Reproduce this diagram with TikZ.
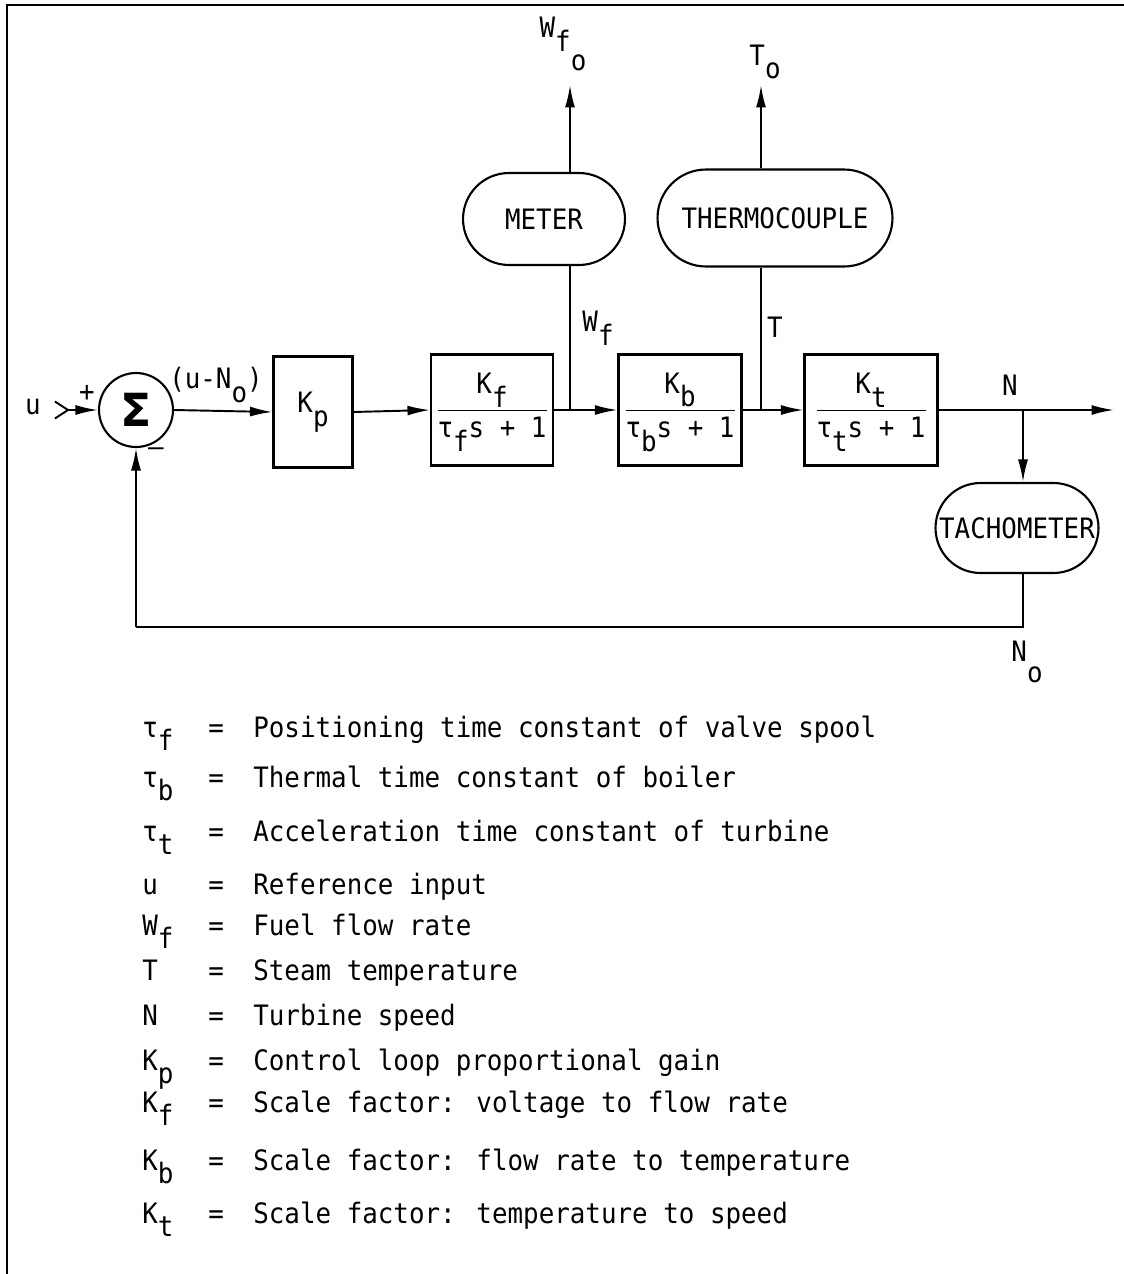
\documentclass[tikz,border=0pt]{standalone}
\usepackage{fontspec}
\setmainfont{DejaVu Sans Mono}[FakeStretch=0.92]
\newfontfamily\sigmafont{DejaVu Sans}
\usetikzlibrary{arrows.meta, positioning, calc}

% lowered index, typewriter style
\newcommand{\lo}[1]{\raisebox{-0.9ex}{#1}}
% first order lag  K / (tau s + 1)
\newcommand{\lagfrac}[1]{\begin{tabular}{@{}c@{}}\rule{0pt}{14pt}K\lo{#1}\\[4pt]\hline\rule[-4pt]{0pt}{19pt}τ\lo{#1}s + 1\end{tabular}}

\tikzset{
  every node/.style={font=\fontsize{16}{19}\selectfont},
  block/.style={draw, line width=1.2pt, minimum height=2.22cm, inner sep=0pt},
  sensor/.style={draw, line width=1.2pt, inner sep=0pt},
  sig/.style={line width=1.1pt, ->},
  wire/.style={line width=1.1pt},
  legend/.style={anchor=base west, inner sep=0pt}
}

\begin{document}
\begin{tikzpicture}[x=0.02cm, y=-0.02cm, >={Latex[length=0.45cm,width=0.2cm]}]
  \useasboundingbox (0,0) rectangle (1124,1274);
  % frame
  \draw[line width=1.3pt] (7,1274) -- (7,5) -- (1124,5);

  % forward path
  \node[circle, draw, line width=1.2pt, minimum size=1.48cm, inner sep=0pt,
    font=\sigmafont\bfseries\fontsize{26}{26}\selectfont] (sum) at (136,410) {Σ};
  \node[block, minimum width=1.58cm] (kp) at (313,412) {K\lo{p}};
  \node[block, minimum width=2.44cm] (kf) at (492,410) {\lagfrac{f}};
  \node[block, minimum width=2.46cm] (kb) at (680,410) {\lagfrac{b}};
  \node[block, minimum width=2.66cm] (kt) at (871,410) {\lagfrac{t}};

  % instruments
  \node[sensor, minimum width=3.24cm, minimum height=1.84cm, rounded corners=0.92cm] (meter) at (544,219) {METER};
  \node[sensor, minimum width=4.7cm, minimum height=1.94cm, rounded corners=0.97cm] (thermo) at (775,218) {THERMOCOUPLE};
  \node[sensor, minimum width=3.26cm, minimum height=1.8cm, rounded corners=0.9cm] (tacho) at (1017,528) {TACHOMETER};

  % branch points and free ends
  \coordinate (uin) at (54,410);
  \coordinate (jf) at (570,410);
  \coordinate (jt) at (761,410);
  \coordinate (jn) at (1023,410);
  \coordinate (nout) at (1114,410);
  \coordinate (wfout) at (570,85);
  \coordinate (tout) at (761,85);
  \coordinate (fbr) at (1023,627);
  \coordinate (fbl) at (136,627);

  % signals
  \draw[wire, {Straight Barb[reversed,length=0.26cm,width=0.34cm]}->] (uin) -- (sum.west);
  \draw[sig] (sum.east) -- (kp.west);
  \draw[sig] (kp.east) -- (kf.west);
  \draw[wire] (kf.east) -- (jf);
  \draw[sig] (jf) -- (kb.west);
  \draw[wire] (kb.east) -- (jt);
  \draw[sig] (jt) -- (kt.west);
  \draw[sig] (kt.east) -- (nout);
  \draw[wire] (jf) -- (jf |- meter.south);
  \draw[sig] (jf |- meter.north) -- (wfout);
  \draw[wire] (jt) -- (jt |- thermo.south);
  \draw[sig] (jt |- thermo.north) -- (tout);
  \draw[sig] (jn) -- (jn |- tacho.north);
  \draw[wire] (jn |- tacho.south) -- (fbr) -- (fbl);
  \draw[sig] (fbl) -- (sum.south);

  % signal labels
  \node (ulab) at (33,407) {u};
  \node (plus) at (87,393) {+};
  \node (minus) at (156,452) {–};
  \node (err) at (216,385) {(u-N\lo{o})};
  \node (wflab) at (598,328) {W\lo{f}};
  \node (tlab) at (775,327) {T};
  \node (nlab) at (1010,385) {N};
  \node (nolab) at (1027,662) {N\raisebox{-1.4ex}{o}};
  \node (wfolab) at (563,44) {W\lo{f\raisebox{-1.2ex}{o}}};
  \node (tolab) at (765,62) {T\lo{o}};

  % legend
  \foreach \y/\s/\t [count=\i] in {
    737/{τ\lo{f}}/{Positioning time constant of valve spool},
    787/{τ\lo{b}}/{Thermal time constant of boiler},
    841/{τ\lo{t}}/{Acceleration time constant of turbine},
    894/u/{Reference input},
    935/{W\lo{f}}/{Fuel flow rate},
    980/T/{Steam temperature},
    1025/N/{Turbine speed},
    1070/{K\lo{p}}/{Control loop proportional gain},
    1112/{K\lo{f}}/{Scale factor: voltage to flow rate},
    1170/{K\lo{b}}/{Scale factor: flow rate to temperature},
    1223/{K\lo{t}}/{Scale factor: temperature to speed}} {
    \node[legend] (sym\i) at (142,\y) {\s};
    \node[legend] (eq\i) at (208,\y) {=};
    \node[legend] (txt\i) at (253,\y) {\t};
  }
\end{tikzpicture}
\end{document}
